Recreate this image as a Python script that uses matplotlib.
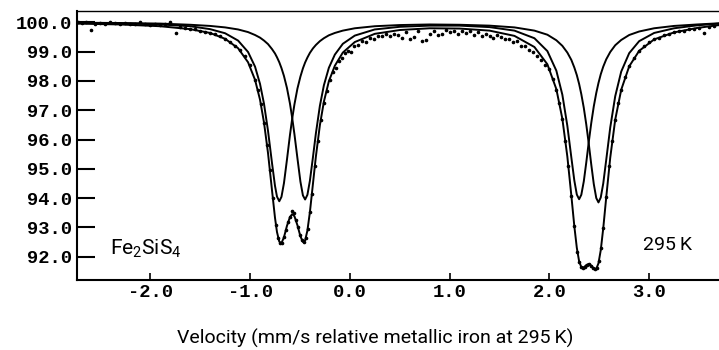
import matplotlib
matplotlib.use("Agg")
import matplotlib.pyplot as plt

plt.rcParams.update({
    "font.family": "Roboto", "font.size": 14,
    "mathtext.fontset": "custom", "mathtext.rm": "Roboto", "mathtext.it": "Roboto",
    "axes.linewidth": 1.5,
})

# measured spectrum (velocity mm/s, relative transmission %)
meas_v = [-2.72, -2.68, -2.64, -2.59, -2.55, -2.50, -2.45, -2.40, -2.35, -2.30,
          -2.25, -2.20, -2.15, -2.10, -2.05, -2.00, -1.95, -1.90, -1.85, -1.80,
          -1.74, -1.70, -1.65, -1.60, -1.55, -1.50, -1.45, -1.40, -1.35, -1.30,
          -1.25, -1.20, -1.15, -1.10, -1.05, -1.00, -0.95, -0.92, -0.89, -0.86,
          -0.83, -0.80, -0.77, -0.74, -0.72, -0.70, -0.68, -0.66, -0.64, -0.62,
          -0.60, -0.58, -0.56, -0.54, -0.52, -0.50, -0.48, -0.46, -0.44, -0.42,
          -0.40, -0.38, -0.35, -0.32, -0.29, -0.26, -0.23, -0.20, -0.17, -0.14,
          -0.11, -0.08, -0.05, -0.02, 0.01, 0.04, 0.08, 0.12, 0.16, 0.20,
          0.24, 0.28, 0.32, 0.36, 0.40, 0.44, 0.48, 0.52, 0.56, 0.60,
          0.64, 0.68, 0.72, 0.76, 0.80, 0.84, 0.88, 0.92, 0.96, 1.00,
          1.04, 1.08, 1.12, 1.16, 1.20, 1.24, 1.28, 1.32, 1.36, 1.40,
          1.44, 1.48, 1.52, 1.56, 1.60, 1.64, 1.68, 1.72, 1.76, 1.80,
          1.84, 1.88, 1.92, 1.96, 2.00, 2.04, 2.07, 2.10, 2.13, 2.16,
          2.19, 2.22, 2.25, 2.28, 2.30, 2.32, 2.34, 2.36, 2.38, 2.40,
          2.42, 2.44, 2.46, 2.48, 2.50, 2.52, 2.54, 2.57, 2.60, 2.63,
          2.66, 2.69, 2.72, 2.76, 2.80, 2.85, 2.90, 2.95, 3.00, 3.05,
          3.10, 3.15, 3.20, 3.25, 3.30, 3.35, 3.40, 3.45, 3.50, 3.55,
          3.60, 3.65, 3.70]
meas_t = [100.00, 99.98, 100.01, 99.74, 99.96, 99.99, 99.95, 100.00, 99.97, 99.95,
          99.98, 99.93, 99.96, 100.01, 99.94, 99.92, 99.95, 99.90, 99.93, 100.01,
          99.64, 99.86, 99.82, 99.78, 99.76, 99.71, 99.68, 99.64, 99.59, 99.52,
          99.44, 99.34, 99.21, 99.07, 98.86, 98.55, 98.04, 97.68, 97.20, 96.58,
          95.80, 94.95, 94.00, 93.08, 92.65, 92.46, 92.48, 92.66, 92.92, 93.17,
          93.35, 93.55, 93.48, 93.25, 93.00, 92.73, 92.55, 92.50, 92.62, 92.95,
          93.52, 94.15, 95.10, 95.95, 96.65, 97.25, 97.65, 98.02, 98.30, 98.45,
          98.68, 98.80, 98.95, 99.02, 99.00, 99.18, 99.22, 99.35, 99.33, 99.48,
          99.45, 99.55, 99.52, 99.60, 99.55, 99.62, 99.58, 99.48, 99.66, 99.45,
          99.50, 99.70, 99.36, 99.40, 99.62, 99.72, 99.58, 99.62, 99.74, 99.66,
          99.70, 99.60, 99.72, 99.64, 99.70, 99.58, 99.66, 99.52, 99.62, 99.55,
          99.48, 99.58, 99.50, 99.42, 99.45, 99.32, 99.38, 99.20, 99.18, 99.05,
          98.98, 98.85, 98.70, 98.55, 98.40, 98.05, 97.70, 97.25, 96.70, 95.95,
          95.10, 94.08, 93.04, 92.15, 91.80, 91.63, 91.60, 91.66, 91.72, 91.74,
          91.69, 91.60, 91.56, 91.62, 91.84, 92.30, 92.97, 94.03, 95.10, 95.95,
          96.68, 97.25, 97.70, 98.15, 98.50, 98.80, 99.03, 99.20, 99.33, 99.42,
          99.48, 99.56, 99.62, 99.66, 99.71, 99.72, 99.76, 99.78, 99.80, 99.65,
          99.84, 99.88, 99.95]

# fitted curves: two quadrupole doublets and their sum
fit_v = [-2.74, -2.30, -1.90, -1.60, -1.40, -1.25, -1.12, -1.02, -0.95, -0.90,
         -0.86, -0.82, -0.78, -0.75, -0.73, -0.707, -0.685, -0.66, -0.63, -0.60,
         -0.578, -0.555, -0.525, -0.495, -0.47, -0.448, -0.425, -0.40, -0.37, -0.34,
         -0.30, -0.26, -0.21, -0.15, -0.07, 0.05, 0.25, 0.50, 0.80, 1.10,
         1.40, 1.65, 1.85, 1.98, 2.07, 2.13, 2.18, 2.22, 2.25, 2.275,
         2.298, 2.32, 2.345, 2.37, 2.395, 2.42, 2.445, 2.47, 2.492, 2.515,
         2.54, 2.57, 2.61, 2.66, 2.72, 2.80, 2.90, 3.05, 3.25, 3.48,
         3.70]
fit_a = [99.99, 99.97, 99.93, 99.87, 99.77, 99.63, 99.38, 98.99, 98.49, 97.90,
         97.22, 96.30, 95.20, 94.42, 94.05, 93.89, 94.04, 94.51, 95.31, 96.15,
         96.70, 97.20, 97.74, 98.15, 98.43, 98.63, 98.80, 98.96, 99.11, 99.23,
         99.36, 99.46, 99.56, 99.64, 99.72, 99.80, 99.87, 99.91, 99.93, 99.92,
         99.89, 99.83, 99.72, 99.58, 99.39, 99.20, 98.97, 98.72, 98.46, 98.20,
         97.90, 97.55, 97.08, 96.51, 95.85, 95.14, 94.48, 94.00, 93.85, 94.02,
         94.50, 95.31, 96.41, 97.48, 98.32, 98.95, 99.36, 99.64, 99.80, 99.90,
         99.96]
fit_b = [99.99, 99.98, 99.96, 99.92, 99.88, 99.83, 99.76, 99.67, 99.57, 99.48,
         99.38, 99.26, 99.09, 98.94, 98.81, 98.64, 98.44, 98.17, 97.76, 97.23,
         96.75, 96.18, 95.36, 94.56, 94.09, 93.95, 94.11, 94.59, 95.38, 96.21,
         97.15, 97.85, 98.45, 98.90, 99.27, 99.55, 99.76, 99.85, 99.89, 99.89,
         99.84, 99.72, 99.46, 99.02, 98.35, 97.53, 96.47, 95.39, 94.60, 94.12,
         93.96, 94.11, 94.57, 95.22, 95.92, 96.57, 97.13, 97.59, 97.93, 98.23,
         98.49, 98.74, 98.99, 99.22, 99.40, 99.57, 99.69, 99.80, 99.88, 99.93,
         99.97]
fit_sum = [99.96, 99.93, 99.87, 99.77, 99.64, 99.44, 99.12, 98.64, 98.04, 97.36,
           96.58, 95.54, 94.27, 93.33, 92.84, 92.51, 92.46, 92.66, 93.05, 93.35,
           93.45, 93.38, 93.07, 92.69, 92.50, 92.55, 92.89, 93.52, 94.47, 95.42,
           96.49, 97.29, 97.99, 98.52, 98.97, 99.33, 99.61, 99.74, 99.80, 99.79,
           99.72, 99.54, 99.16, 98.57, 97.72, 96.71, 95.42, 94.09, 93.04, 92.30,
           91.84, 91.64, 91.63, 91.71, 91.75, 91.69, 91.59, 91.58, 91.77, 92.22,
           92.97, 94.03, 95.38, 96.68, 97.70, 98.50, 99.03, 99.42, 99.66, 99.81,
           99.91]

x_ticks = [-2.0, -1.0, 0.0, 1.0, 2.0, 3.0]
y_ticks = [92.0, 93.0, 94.0, 95.0, 96.0, 97.0, 98.0, 99.0, 100.0]

fig = plt.figure(figsize=(7.19, 3.50), dpi=100)
ax = fig.add_axes([0.1067, 0.20, 0.8933, 0.7694])

for curve in (fit_a, fit_b, fit_sum):
    ax.plot(fit_v, curve, color="black", lw=1.4, solid_joinstyle="round")
ax.plot(meas_v, meas_t, ls="none", marker="o", ms=1.6, color="black")

ax.set_xlim(-2.737, 3.70)
ax.set_ylim(91.20, 100.40)
ax.spines["right"].set_visible(False)
ax.spines["top"].set_linewidth(1.0)

mono = dict(family="Liberation Mono", weight="bold", size=13.5)
ax.set_xticks(x_ticks)
ax.set_xticklabels([f"{t:.1f}" for t in x_ticks], fontdict=mono)
ax.set_yticks(y_ticks)
ax.set_yticklabels([f"{t:.1f}" for t in y_ticks], fontdict=mono)
ax.tick_params(axis="y", direction="in", length=13, width=1.5, pad=3.4)
ax.tick_params(axis="x", direction="in", length=5, width=1.2, pad=3)

ax.text(-2.40, 92.06, r"Fe$_2$SiS$_4$", fontsize=15, va="baseline")
ax.text(2.935, 92.23, "295\u2009K", fontsize=14, va="baseline")
fig.text(375 / 719, 1 - 344 / 350, "Velocity (mm/s relative metallic iron at 295\u2009K)",
         ha="center", va="baseline", fontsize=14)

fig.savefig("out.png", dpi=100)
